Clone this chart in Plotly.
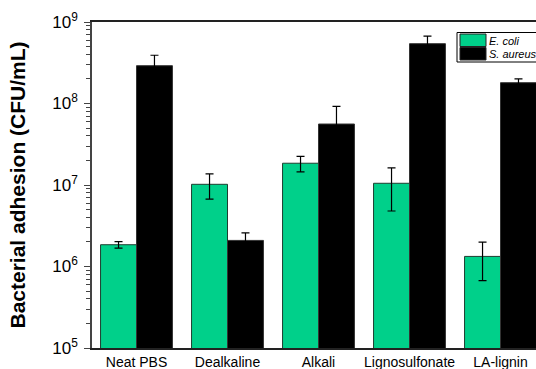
import plotly.graph_objects as go

categories = ["Neat PBS", "Dealkaline", "Alkali", "Lignosulfonate", "LA-lignin"]
ecoli = [1.85e6, 1.02e7, 1.85e7, 1.05e7, 1.33e6]
ecoli_err = [0.17e6, 0.35e7, 0.4e7, 0.57e7, 0.66e6]
saureus = [2.91e8, 2.09e6, 5.6e7, 5.42e8, 1.8e8]
saureus_err = [1.0e8, 0.5e6, 3.6e7, 1.3e8, 2.0e7]
series_names = ["E. coli", "S. aureus"]
series_colors = ["#00D08A", "black"]

yticks = [1e5, 1e6, 1e7, 1e8, 1e9]
yticktext = ["10<sup>5</sup>", "10<sup>6</sup>", "10<sup>7</sup>", "10<sup>8</sup>", "10<sup>9</sup>"]
minor_vals = [m * 10**e for e in range(5, 9) for m in range(2, 10)]

FONT = "Arial, Liberation Sans, sans-serif"
W, H = 536, 369
ML, MR, MT, MB = 92, 0, 22, 21
PW, PH = W - ML - MR, H - MT - MB

def px(x):
    return (x - ML) / PW

def py(y):
    return (H - MB - y) / PH

fig = go.Figure()
fig.add_trace(go.Bar(
    x=categories, y=ecoli, name=series_names[0], showlegend=False,
    marker=dict(color=series_colors[0], line=dict(color="#1e3d30", width=1)),
    error_y=dict(type="data", array=ecoli_err, visible=True, color="black", thickness=1.2, width=4),
))
fig.add_trace(go.Bar(
    x=categories, y=saureus, name=series_names[1], showlegend=False,
    marker=dict(color=series_colors[1], line=dict(color="#333", width=1)),
    error_y=dict(type="data", array=saureus_err, visible=True, color="black", thickness=1.2, width=4),
))

# custom legend (box + swatches + italic labels)
shapes = [dict(type="rect", xref="paper", yref="paper", x0=px(457), x1=px(560), y0=py(62), y1=py(32.5),
               line=dict(color="black", width=1), fillcolor="white", layer="above")]
annotations = []
rows = [(34, 46.5, 40.5), (47.5, 60, 53.5)]
for (y0, y1, yc), name, col in zip(rows, series_names, series_colors):
    shapes.append(dict(type="rect", xref="paper", yref="paper", x0=px(460), x1=px(486), y0=py(y1), y1=py(y0),
                       line=dict(color="#222", width=1), fillcolor=col, layer="above"))
    annotations.append(dict(xref="paper", yref="paper", x=px(487), y=py(yc), xanchor="left", yanchor="middle",
                            text=f"<i>{name}</i>", showarrow=False, font=dict(size=11, family=FONT, color="black")))

fig.update_layout(
    width=W, height=H,
    margin=dict(l=ML, r=MR, t=MT, b=MB, autoexpand=False),
    barmode="group", bargap=0.21, bargroupgap=0,
    plot_bgcolor="white", paper_bgcolor="white",
    font=dict(family=FONT, color="black"),
    showlegend=False,
    shapes=shapes, annotations=annotations,
    xaxis=dict(
        automargin=False,
        range=[-0.489, 4.39], showline=True, linecolor="#222", linewidth=1.5,
        mirror=True, ticks="", tickfont=dict(size=14, family=FONT),
        showgrid=False,
    ),
    yaxis=dict(
        automargin=False,
        type="log", range=[5, 9], showline=True, linecolor="#444", linewidth=1.5,
        tickmode="array", tickvals=yticks, ticktext=yticktext,
        ticks="outside", ticklen=6, tickcolor="#444", tickwidth=1.2,
        tickfont=dict(size=17, family=FONT), ticklabelstandoff=3,
        minor=dict(tickmode="array", tickvals=minor_vals, ticks="outside", ticklen=4, tickcolor="#444", tickwidth=1),
        showgrid=False,
        title=dict(text="<b>Bacterial adhesion (CFU/mL)</b>", font=dict(size=21, family=FONT), standoff=21),
    ),
)

fig.write_html("out.html", config={"displayModeBar": False},
               post_script="document.body.style.margin='0';")
